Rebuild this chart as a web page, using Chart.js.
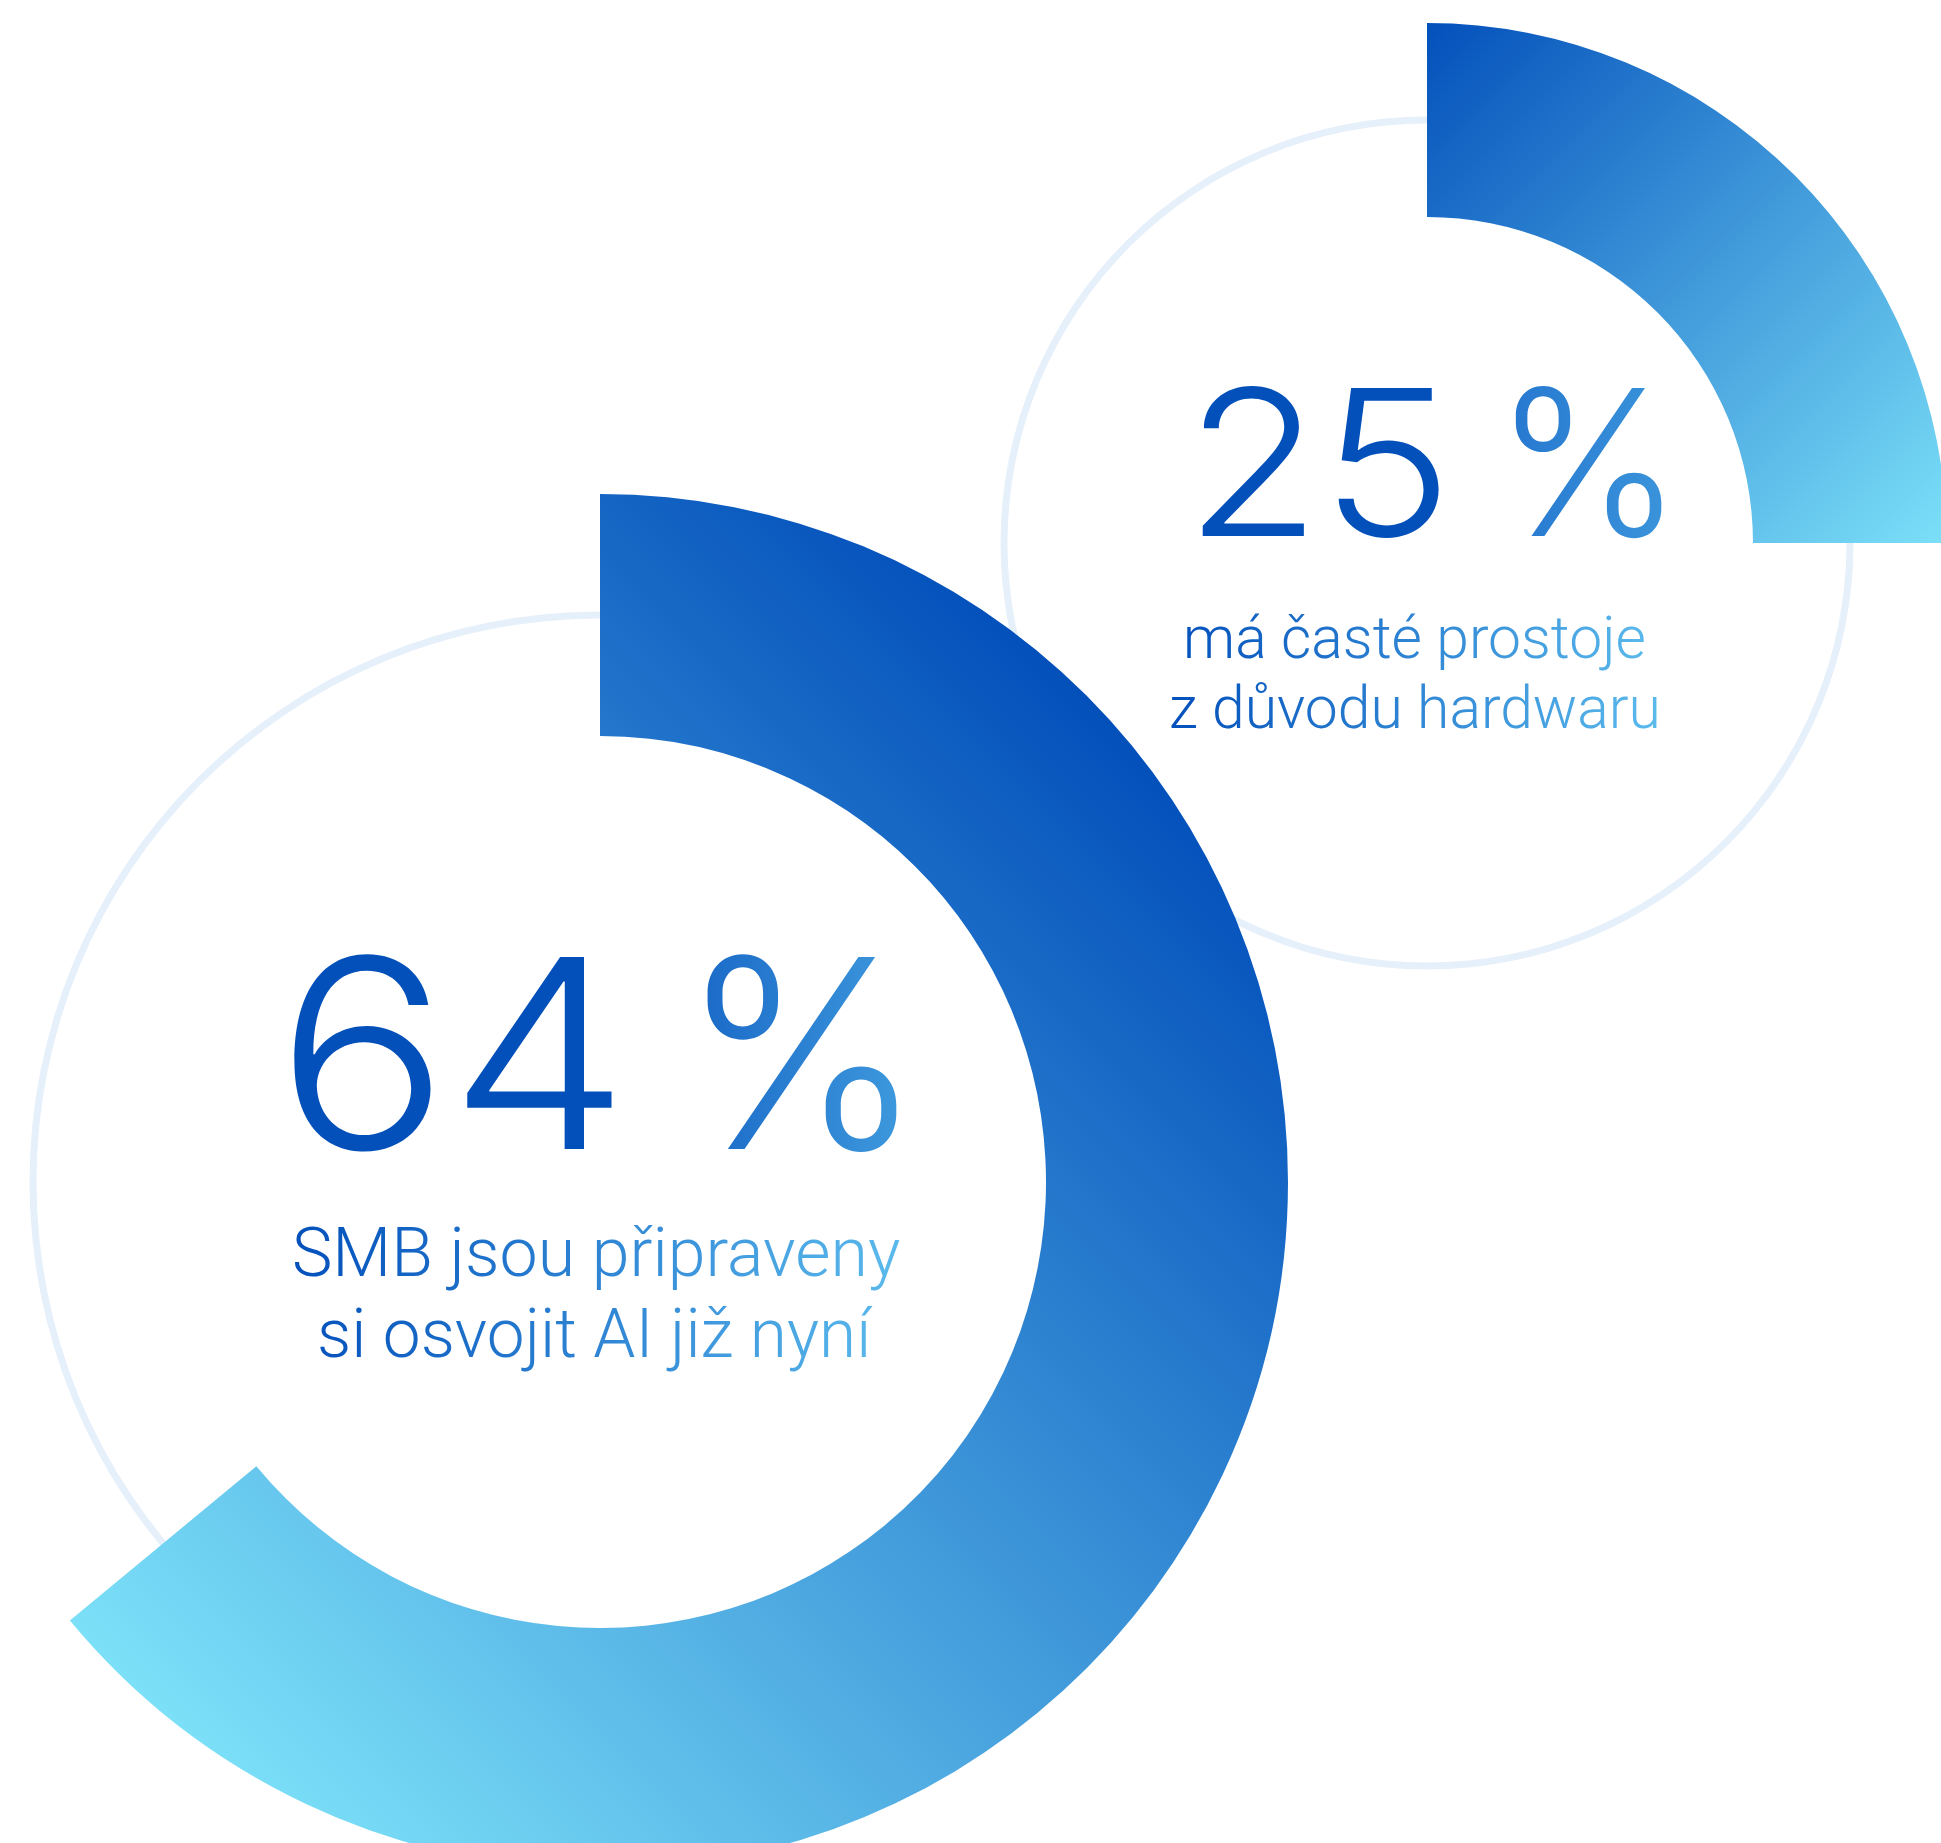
<!DOCTYPE html>
<html lang="cs">
<head>
<meta charset="utf-8">
<title>SMB – AI a hardware</title>
<script src="https://cdn.jsdelivr.net/npm/chart.js@4.4.1/dist/chart.umd.min.js"></script>
<style>
    html, body { margin: 0; padding: 0; background: #fff; width: 1941px; height: 1843px; overflow: hidden; position: relative; }
    canvas.ring { position: absolute; }
</style>
</head>
<body>
<canvas id="rTrack" class="ring"></canvas>
<canvas id="rArc" class="ring"></canvas>
<canvas id="lTrack" class="ring"></canvas>
<canvas id="lArc" class="ring"></canvas>
<script>
// data
const shares = [64, 25];
const shareLabels = ['64', '25'];
const captions = [
    ['SMB jsou připraveny', 'si osvojit AI již nyní'],
    ['má časté prostoje', 'z důvodu hardwaru'],
];

// layout (px, relative to ring centre)
const RINGS = [
    {
        arc: 'lArc', track: 'lTrack', cx: 600, cy: 1182, outer: 688, inner: 446, trackR: 567,
        grad: [0.707, -0.707, -0.707, 0.707],
        num: { l: -306, r: 15, t: -231, b: -29 }, pct: { l: 104, r: 300, t: -231, b: -29 },
        pctColors: ['#1b6bc8', '#3d98dc'],
        capSize: 68, lines: [{ base: 94, l: -306, r: 300 }, { base: 175, l: -280, r: 273 }],
    },
    {
        arc: 'rArc', track: 'rTrack', cx: 1427, cy: 543, outer: 520, inner: 326, trackR: 423,
        grad: [0, -1, 1, 0],
        num: { l: -225, r: 12, t: -160, b: -4 }, pct: { l: 86, r: 237, t: -160, b: -4 },
        pctColors: ['#2779d0', '#3a93da'],
        capSize: 60, lines: [{ base: 115, l: -240, r: 217 }, { base: 185, l: -256, r: 230 }],
    },
];
const TRACK_W = 7;
const DARK = '#0350bb', LIGHT = '#7ce0f8', TRACK = '#e6f0fb';

// fit text ink into a box; fill is a colour or fn(width) -> gradient
function fitText(ctx, text, box, font, fill, vertical) {
    ctx.save();
    ctx.font = font;
    ctx.textAlign = 'left';
    ctx.textBaseline = 'alphabetic';
    const m = ctx.measureText(text);
    const w = m.actualBoundingBoxLeft + m.actualBoundingBoxRight;
    const sx = (box.r - box.l) / w;
    if (vertical) {
        const h = m.actualBoundingBoxAscent + m.actualBoundingBoxDescent;
        const sy = (box.b - box.t) / h;
        ctx.translate(box.l, box.t + m.actualBoundingBoxAscent * sy);
        ctx.scale(sx, sy);
    } else {
        ctx.translate(box.l, box.base);
        ctx.scale(sx, 1);
    }
    ctx.fillStyle = typeof fill === 'function' ? fill(ctx, w) : fill;
    ctx.fillText(text, m.actualBoundingBoxLeft, 0);
    ctx.restore();
}

const centerText = {
    id: 'centerText',
    afterDraw(chart, args, o) {
        const { ctx, chartArea: a } = chart;
        const cfg = RINGS[o.i];
        ctx.save();
        ctx.translate((a.left + a.right) / 2, (a.top + a.bottom) / 2);
        fitText(ctx, shareLabels[o.i], cfg.num, '300 260px Inter', DARK, true);
        fitText(ctx, '%', cfg.pct, '300 260px Inter', (c, w) => {
            const g = c.createLinearGradient(0, 0, w, 0);
            g.addColorStop(0, cfg.pctColors[0]);
            g.addColorStop(1, cfg.pctColors[1]);
            return g;
        }, true);
        const minL = Math.min(...cfg.lines.map((l) => l.l));
        const maxR = Math.max(...cfg.lines.map((l) => l.r));
        captions[o.i].forEach((txt, k) => {
            const ln = cfg.lines[k];
            fitText(ctx, txt, ln, `300 ${cfg.capSize}px Roboto`, (c, w) => {
                // gradient spans the whole caption block
                const s = w / (ln.r - ln.l);
                const g = c.createLinearGradient((minL - ln.l) * s, 0, (maxR - ln.l) * s, 0);
                g.addColorStop(0, DARK);
                g.addColorStop(1, '#5bbaec');
                return g;
            }, false);
        });
        ctx.restore();
    },
};

function placeCanvas(el, cfg) {
    const S = 2 * cfg.outer + 8;
    el.width = S; el.height = S;
    el.style.width = S + 'px'; el.style.height = S + 'px';
    el.style.left = (cfg.cx - S / 2) + 'px';
    el.style.top = (cfg.cy - S / 2) + 'px';
}

const baseOpts = {
    responsive: false, animation: false, events: [],
    layout: { padding: 0 },
    plugins: { legend: { display: false }, tooltip: { enabled: false } },
};

RINGS.forEach((cfg, i) => {
    const trackEl = document.getElementById(cfg.track);
    const arcEl = document.getElementById(cfg.arc);
    placeCanvas(trackEl, cfg);
    placeCanvas(arcEl, cfg);

    new Chart(trackEl, {
        type: 'doughnut',
        data: { labels: ['celkem'], datasets: [{ data: [100], backgroundColor: TRACK, borderWidth: 0 }] },
        options: {
            ...baseOpts,
            radius: cfg.trackR + TRACK_W / 2,
            cutout: ((cfg.trackR - TRACK_W / 2) / (cfg.trackR + TRACK_W / 2) * 100) + '%',
        },
    });

    new Chart(arcEl, {
        type: 'doughnut',
        data: {
            labels: ['ano', 'ostatní'],
            datasets: [{
                data: [shares[i], 100 - shares[i]],
                borderWidth: 0,
                backgroundColor: (c) => {
                    if (c.dataIndex !== 0) return 'rgba(0,0,0,0)';
                    const a = c.chart.chartArea;
                    if (!a) return DARK;
                    const x = (a.left + a.right) / 2, y = (a.top + a.bottom) / 2, R = cfg.outer, d = cfg.grad;
                    const g = c.chart.ctx.createLinearGradient(x + d[0] * R, y + d[1] * R, x + d[2] * R, y + d[3] * R);
                    g.addColorStop(0, DARK);
                    g.addColorStop(1, LIGHT);
                    return g;
                },
            }],
        },
        options: {
            ...baseOpts,
            radius: cfg.outer,
            cutout: (cfg.inner / cfg.outer * 100) + '%',
            plugins: { ...baseOpts.plugins, centerText: { i } },
        },
        plugins: [centerText],
    });
});
</script>
</body>
</html>
